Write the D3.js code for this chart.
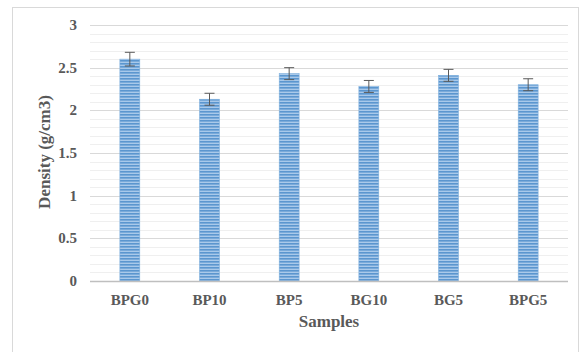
<!DOCTYPE html>
<html>
<head>
<meta charset="utf-8">
<script src="https://cdn.jsdelivr.net/npm/d3@7"></script>
<style>
  body { margin: 0; background: #fff; }
  text { font-family: 'Liberation Serif', 'Times New Roman', serif; font-weight: bold; fill: #595959; }
</style>
</head>
<body>
<div class="chart"></div>
<script>
const width = 581
const height = 352
const margin = { top: 25, right: 13, bottom: 71, left: 90 }

const samples = ['BPG0', 'BP10', 'BP5', 'BG10', 'BG5', 'BPG5']
const density = [2.6, 2.13, 2.43, 2.28, 2.41, 2.3]
const errors = [0.08, 0.07, 0.07, 0.07, 0.07, 0.07]
const yTicks = [0, 0.5, 1, 1.5, 2, 2.5, 3]

const svg = d3.select('.chart')
  .append('svg')
  .attr('width', width)
  .attr('height', height)

// striped fill like the original
const defs = svg.append('defs')
const pat = defs.append('pattern')
  .attr('id', 'stripes')
  .attr('patternUnits', 'userSpaceOnUse')
  .attr('width', 4)
  .attr('height', 3)
pat.append('rect').attr('width', 4).attr('height', 3).attr('fill', '#a9c9ea')
pat.append('rect').attr('width', 4).attr('height', 1.6).attr('fill', '#5b96cf')

// outer frame
svg.append('rect')
  .attr('x', 12.5)
  .attr('y', 7.5)
  .attr('width', 566)
  .attr('height', 360)
  .attr('fill', 'none')
  .attr('stroke', '#d9d9d9')

const x = d3.scaleBand()
  .domain(samples)
  .range([margin.left, width - margin.right])
  .paddingInner(0.75)
  .paddingOuter(0.375)

const y = d3.scaleLinear()
  .domain([0, 3])
  .range([height - margin.bottom, margin.top])

const g = svg.append('g')

// minor gridlines
g.selectAll('.minor')
  .data(d3.range(1, 30).map(d => d / 10).filter(d => Math.round(d * 10) % 5 !== 0))
  .enter()
  .append('line')
  .attr('x1', margin.left)
  .attr('x2', width - margin.right)
  .attr('y1', d => Math.round(y(d)) + 0.5)
  .attr('y2', d => Math.round(y(d)) + 0.5)
  .attr('stroke', '#efefef')

// major gridlines
g.selectAll('.major')
  .data(yTicks.slice(1))
  .enter()
  .append('line')
  .attr('x1', margin.left)
  .attr('x2', width - margin.right)
  .attr('y1', d => Math.round(y(d)) + 0.5)
  .attr('y2', d => Math.round(y(d)) + 0.5)
  .attr('stroke', '#d9d9d9')

// bars
g.selectAll('.bar')
  .data(samples)
  .enter()
  .append('rect')
  .attr('x', d => x(d))
  .attr('width', x.bandwidth())
  .attr('y', (d, i) => y(density[i]))
  .attr('height', (d, i) => y(0) - y(density[i]))
  .attr('fill', 'url(#stripes)')
  .attr('stroke', '#7fb0de')
  .attr('stroke-width', 0.6)

// error bars
const eb = g.selectAll('.err')
  .data(samples)
  .enter()
  .append('g')
  .attr('stroke', '#595959')
  .attr('stroke-width', 1)
eb.append('line')
  .attr('x1', d => x(d) + x.bandwidth() / 2)
  .attr('x2', d => x(d) + x.bandwidth() / 2)
  .attr('y1', (d, i) => y(density[i] + errors[i]))
  .attr('y2', (d, i) => y(density[i] - errors[i]))
eb.append('line')
  .attr('x1', d => x(d) + x.bandwidth() / 2 - 5)
  .attr('x2', d => x(d) + x.bandwidth() / 2 + 5)
  .attr('y1', (d, i) => y(density[i] + errors[i]))
  .attr('y2', (d, i) => y(density[i] + errors[i]))
eb.append('line')
  .attr('x1', d => x(d) + x.bandwidth() / 2 - 5)
  .attr('x2', d => x(d) + x.bandwidth() / 2 + 5)
  .attr('y1', (d, i) => y(density[i] - errors[i]))
  .attr('y2', (d, i) => y(density[i] - errors[i]))

// baseline
g.append('line')
  .attr('x1', margin.left)
  .attr('x2', width - margin.right)
  .attr('y1', Math.round(y(0)) + 0.5)
  .attr('y2', Math.round(y(0)) + 0.5)
  .attr('stroke', '#bfbfbf')
  .attr('stroke-width', 1.5)

// y tick labels
g.selectAll('.ytick')
  .data(yTicks)
  .enter()
  .append('text')
  .attr('x', 77)
  .attr('y', d => y(d) + 5)
  .attr('text-anchor', 'end')
  .style('font-size', '15px')
  .text(d => d)

// x tick labels
g.selectAll('.xtick')
  .data(samples)
  .enter()
  .append('text')
  .attr('x', d => x(d) + x.bandwidth() / 2)
  .attr('y', 305)
  .attr('text-anchor', 'middle')
  .style('font-size', '15px')
  .text(d => d)

svg.append('text')
  .attr('x', 329)
  .attr('y', 327)
  .attr('text-anchor', 'middle')
  .style('font-size', '17px')
  .text('Samples')

svg.append('text')
  .attr('transform', `translate(50, 152) rotate(-90)`)
  .attr('text-anchor', 'middle')
  .style('font-size', '17px')
  .text('Density (g/cm3)')
</script>
</body>
</html>
